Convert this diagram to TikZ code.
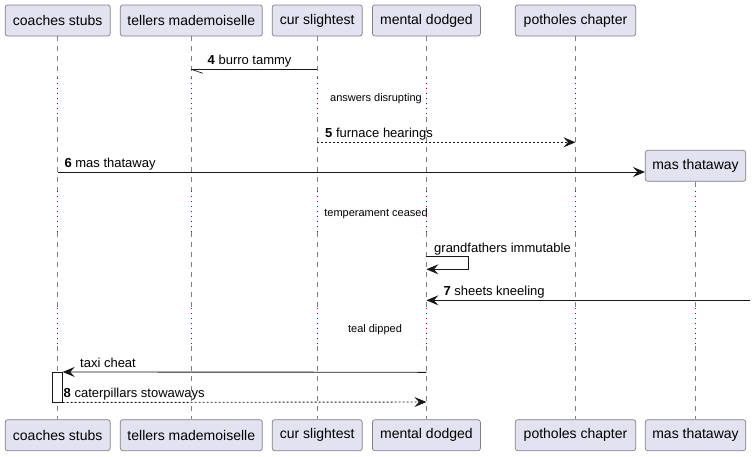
\documentclass[tikz,border=0pt]{standalone}
\usepackage{fontspec}
\setmainfont{Liberation Sans}
\usetikzlibrary{arrows.meta}
\definecolor{partfill}{HTML}{E2E2F0}
\definecolor{partdraw}{HTML}{181818}
\definecolor{delaycol}{HTML}{A80036}
\tikzset{
  part/.style={draw=partdraw!55, line width=0.7pt, fill=partfill, rounded corners=2.5pt,
    minimum height=31pt, inner sep=0pt, font=\fontsize{14}{16}\selectfont},
  lifedash/.style={draw=partdraw!55, line width=0.6pt, dash pattern=on 5pt off 5pt},
  lifedot/.style={draw=delaycol, line width=1pt, dash pattern=on 1pt off 4pt},
  msg/.style={draw=partdraw, line width=0.9pt},
  ret/.style={msg, dash pattern=on 2pt off 2pt},
  tip/.style={-{Stealth[length=12pt,width=10pt,inset=4.5pt,fill=partdraw]}},
  lbl/.style={font=\fontsize{13}{15}\selectfont, inner sep=0pt, anchor=base west},
  dly/.style={font=\fontsize{11}{13}\selectfont, inner sep=0pt},
  actbox/.style={draw=partdraw, line width=0.8pt, fill=white, minimum width=10pt,
    minimum height=29.7pt, inner sep=0pt},
}
\begin{document}
\begin{tikzpicture}[x=1pt,y=-1pt]
\useasboundingbox (0,0) rectangle (755,456);
% participants (top)
\node[part, minimum width=105pt]   (c-top) at (57.7,20.5)  {coaches stubs};
\node[part, minimum width=142pt]   (t-top) at (191.3,20.5) {tellers mademoiselle};
\node[part, minimum width=90pt]    (s-top) at (317.2,20.5) {cur slightest};
\node[part, minimum width=108pt]   (m-top) at (426.4,20.5) {mental dodged};
\node[part, minimum width=120.4pt] (p-top) at (575.5,20.5) {potholes chapter};
\node[part, minimum width=100.4pt] (x-top) at (695.5,165.8) {mas thataway};
% participants (bottom)
\node[part, minimum width=105pt]   (c-bot) at (57.7,435.2)  {coaches stubs};
\node[part, minimum width=142pt]   (t-bot) at (191.3,435.2) {tellers mademoiselle};
\node[part, minimum width=90pt]    (s-bot) at (317.2,435.2) {cur slightest};
\node[part, minimum width=108pt]   (m-bot) at (426.4,435.2) {mental dodged};
\node[part, minimum width=120.4pt] (p-bot) at (575.5,435.2) {potholes chapter};
\node[part, minimum width=100.4pt] (x-bot) at (695.5,435.2) {mas thataway};
% lifelines
\foreach \n in {c,t,s,m,p}{
  \draw[lifedash] (\n-top.south) -- (\n-top.south |- 0,78);
  \draw[lifedot]  (\n-top.south |- 0,78) -- (\n-top.south |- 0,117);
  \draw[lifedash] (\n-top.south |- 0,117) -- (\n-top.south |- 0,191);
}
\draw[lifedash] (x-top.south) -- (x-top.south |- 0,191);
\foreach \n in {c,t,s,m,p,x}{
  \draw[lifedot]  (\n-top.south |- 0,191) -- (\n-top.south |- 0,232);
  \draw[lifedash] (\n-top.south |- 0,232) -- (\n-top.south |- 0,308);
  \draw[lifedot]  (\n-top.south |- 0,308) -- (\n-top.south |- 0,346);
  \draw[lifedash] (\n-top.south |- 0,346) -- (\n-bot.north);
}
% delay texts
\node[dly] (d1) at (376,99)  {answers disrupting};
\node[dly] (d2) at (376,214) {temperament ceased};
\node[dly] (d3) at (375,330) {teal dipped};
% message 4
\coordinate (s4) at (s-top.south |- 0,69.3);
\coordinate (t4) at (t-top.south |- 0,69.3);
\draw[msg] (s4) -- (t4);
\draw[msg, line width=0.7pt] (t4) -- ++(11.5,4);
\node[lbl] (l4) at (207.5,64.8) {\textbf{4} burro tammy};
% message 5
\coordinate (s5) at (s-top.south |- 0,142.3);
\coordinate (p5) at (p-top.south |- 0,142.3);
\draw[ret, tip] (s5) -- (p5);
\node[lbl] (l5) at (325,137.8) {\textbf{5} furnace hearings};
% message 6 (create)
\coordinate (c6) at (c-top.south |- 0,172);
\draw[msg, tip] (c6) -- (c6 -| x-top.west);
\node[lbl] (l6) at (64.3,167.6) {\textbf{6} mas thataway};
% self message
\coordinate (ms1) at (m-top.south |- 0,256.7);
\coordinate (ms2) at (m-top.south |- 0,269.3);
\draw[msg, tip] (ms1) -- ++(42,0) |- (ms2);
\node[lbl] (lg) at (434,252.2) {grandfathers immutable};
% message 7 (from outside)
\coordinate (r7) at (750,300.3);
\coordinate (m7) at (m-top.south |- 0,300.3);
\draw[msg, tip] (r7) -- (m7);
\node[lbl] (l7) at (443.3,295.8) {\textbf{7} sheets kneeling};
% activation
\node[actbox] (act) at (57.3,387.2) {};
% taxi cheat
\coordinate (mt) at (m-top.south |- 0,372.3);
\draw[msg, tip] (mt) -- (act.north east);
\node[lbl] (lt) at (80,367.8) {taxi cheat};
% message 8 (return)
\coordinate (m8) at (m-top.south |- 0,402);
\draw[ret, tip] (act.south east) -- (m8);
\node[lbl] (l8) at (63.5,397.5) {\textbf{8} caterpillars stowaways};
\end{tikzpicture}
\end{document}
